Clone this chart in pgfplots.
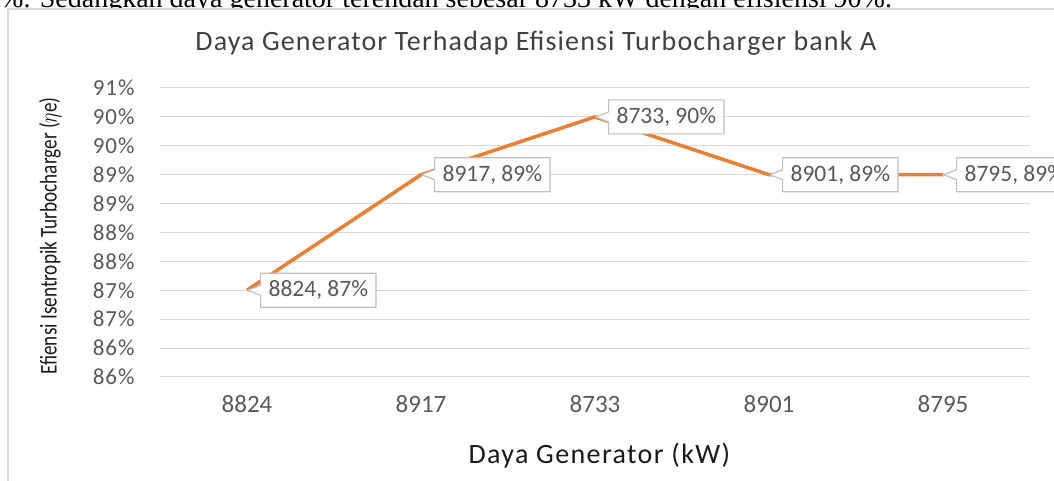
\documentclass[border=0pt]{standalone}
\usepackage{fontspec}
\setmainfont{Carlito}[LetterSpace=4]
\newfontfamily\plainfont{Carlito}
\newfontfamily\seriffont{Liberation Serif}
\usepackage{pgfplots}
\pgfplotsset{compat=1.18}
\usetikzlibrary{shapes.callouts}
\definecolor{lineorange}{HTML}{ED7D31}
\definecolor{gridgray}{HTML}{D9D9D9}
\definecolor{ticktext}{HTML}{595959}
\definecolor{boxgray}{HTML}{BFBFBF}
\definecolor{titletext}{HTML}{404040}
\begin{document}
\begin{tikzpicture}[x=1pt,y=1pt]
\useasboundingbox (0,0) rectangle (1054,481);
\begin{scope}
\clip (0,472) rectangle (1054,481);
\node[anchor=base west, inner sep=0pt, font=\seriffont\fontsize{28}{32}\selectfont] at (0,473) {\%. Sedangkan daya generator terendah sebesar 8733 kW dengan efisiensi 90\%.};
\end{scope}
\draw[gridgray, line width=2pt] (8,0) -- (8,472) -- (1055,472);
\begin{axis}[
  at={(160pt,104pt)}, anchor=south west,
  scale only axis, width=870pt, height=289pt,
  clip=false,
  xmin=-0.5, xmax=4.5, ymin=85.5, ymax=90.5,
  xtick={0,1,2,3,4}, xticklabels={8824,8917,8733,8901,8795},
  ytick={85.5,86,86.5,87,87.5,88,88.5,89,89.5,90,90.5},
  yticklabels={86\%,86\%,87\%,87\%,88\%,88\%,89\%,89\%,90\%,90\%,91\%},
  ymajorgrids, grid style={gridgray, line width=1pt},
  axis line style={draw=none}, major tick length=0pt,
  xticklabel style={anchor=base, yshift=-36pt, text=ticktext, font=\plainfont\fontsize{25}{29}\selectfont},
  yticklabel style={anchor=east, xshift=-22pt, text=ticktext, font=\fontsize{23}{27}\selectfont},
  title={Daya Generator Terhadap Efisiensi Turbocharger bank A},
  title style={at={(axis description cs:0.432,1.108)}, anchor=base, text=titletext, font=\fontsize{28}{32}\selectfont},
  xlabel={Daya Generator (kW)},
  xlabel style={at={(axis description cs:0.505,-0.27)}, anchor=center, text=black!90, font=\fontsize{28}{32}\selectfont\addfontfeature{LetterSpace=5}},
  ylabel={\scalebox{0.8}[1]{Efiensi Isentropik Turbocharger ($\eta$e)}},
  ylabel style={at={(axis description cs:-0.126,0.488)}, rotate=0, anchor=center, text=black!90, font=\plainfont\fontsize{24}{28}\selectfont},
  point meta=explicit symbolic,
  nodes near coords,
  nodes near coords style={shape=rectangle callout, callout relative pointer={(-13pt,0pt)}, callout pointer width=10pt, anchor=west, xshift=13pt, draw=boxgray, line width=1.2pt, fill=white, text=ticktext, font=\plainfont\fontsize{23.5}{27}\selectfont, minimum height=34pt, inner xsep=8pt, inner ysep=2pt},
]
\addplot[lineorange, line width=3.5pt, mark=none, line join=round] coordinates {
  (0,87) [8824, 87\%]
  (1,89) [8917, 89\%]
  (2,90) [8733, 90\%]
  (3,89) [8901, 89\%]
  (4,89) [8795, 89\%]
};
\end{axis}
\end{tikzpicture}
\end{document}
